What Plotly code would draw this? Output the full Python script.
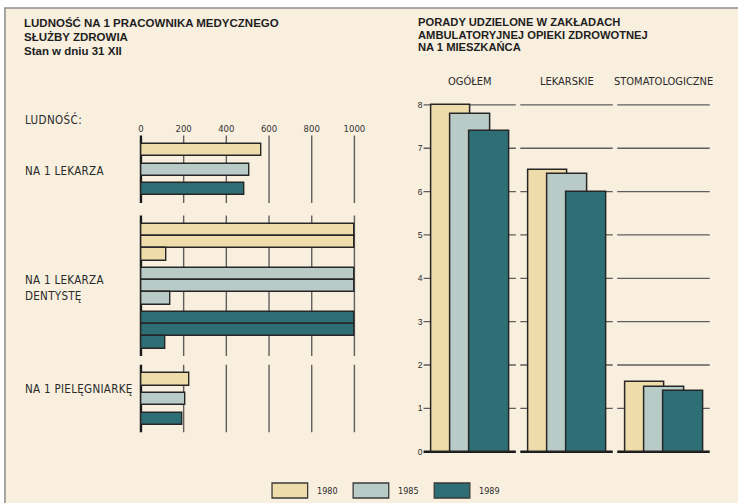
import math
import plotly.graph_objects as go

# ---------------- data ----------------
years = ["1980", "1985", "1989"]

# left chart: population per one medical worker (state on 31 XII)
left_categories = [["NA 1 LEKARZA"], ["NA 1 LEKARZA", "DENTYSTĘ"], ["NA 1 PIELĘGNIARKĘ"]]
pop_per_doctor = [563, 510, 483]
pop_per_dentist = [2120, 2140, 2115]
pop_per_nurse = [225, 208, 192]
left_tickvals = [0, 200, 400, 600, 800, 1000]
left_ticktext = ["0", "200", "400", "600", "800", "1000"]

# right chart: outpatient consultations per inhabitant
right_categories = ["OGÓŁEM", "LEKARSKIE", "STOMATOLOGICZNE"]
visits_1980 = [8.0, 6.5, 1.6]
visits_1985 = [7.8, 6.4, 1.5]
visits_1989 = [7.4, 6.0, 1.4]
right_tickvals = [0, 1, 2, 3, 4, 5, 6, 7, 8]
right_ticktext = ["0", "1", "2", "3", "4", "5", "6", "7", "8"]

# ---------------- style / geometry ----------------
W, H = 738, 503
COLORS = ["#efdcab", "#b9cbc6", "#2e6f75"]
BG = "#f8efde"
EDGE = "#262626"
GRID = "#5e5e5e"
FN = "Liberation Sans Narrow, DejaVu Sans Condensed, Arial Narrow, sans-serif"
FB = "Liberation Sans, Arial, sans-serif"


def px(x):
    return x / W


def py(y):
    return 1 - y / H


def spaced(txt, ls):
    return '<span style="letter-spacing:%.2fpx">%s</span>' % (ls, txt)


# left axis geometry (pixel of 0 and 1000)
L0, L1000 = 142.5, 358.3
lscale = (L1000 - L0) / 1000.0
lpad = 12
# right axis geometry
R_Y0, R_UNIT = 451.7, 43.35
R_TOP, R_BOT = 95, 460
R_XL, R_XR = 428, 725
SEG_START, SEG_STEP, SEG_W = 428, 98, 93.5
BAR_OFF, BAR_STEP, BAR_W = 8, 19.5, 40

fig = go.Figure()
shapes = []
annotations = []

# frame
shapes.append(dict(type="rect", xref="paper", yref="paper", x0=px(5), x1=1.02, y0=-0.02, y1=py(8),
                   fillcolor=BG, line=dict(color="#8c8c8c", width=1.5), layer="below"))

# ---------- left chart ----------
left_values = [pop_per_doctor, pop_per_dentist, pop_per_nurse]
group_tops = [144.0, 224.0, 373.3]
ROW_H, GAP = 12.2, 7.4
label_y = [[171], [280, 296], [389]]

year_rows = {k: ([], []) for k in range(3)}
for g, vals in enumerate(left_values):
    y = group_tops[g]
    for k, v in enumerate(vals):
        n = max(1, math.ceil(v / 1000))
        for r in range(n):
            length = 1000 if r < n - 1 else v - 1000 * (n - 1)
            year_rows[k][0].append(length)
            year_rows[k][1].append(y + ROW_H / 2)
            y += ROW_H
        y += GAP
    bottom = y - GAP
    for t in left_tickvals:
        shapes.append(dict(type="line", xref="x", yref="y", x0=t, x1=t,
                           y0=group_tops[g] - 8.5, y1=bottom + 7.5, layer="below",
                           line=dict(color="#1a1a1a" if t == 0 else GRID, width=2.4 if t == 0 else 1.4)))
    for line_txt, ly in zip(left_categories[g], label_y[g]):
        annotations.append(dict(text=spaced(line_txt, 0.3), x=px(23), y=py(ly), xref="paper", yref="paper",
                                xanchor="left", yanchor="middle", showarrow=False,
                                font=dict(family=FN, size=11.5, color="#2a2a2a")))

for k in range(3):
    fig.add_trace(go.Bar(orientation="h", x=year_rows[k][0], y=year_rows[k][1], base=0,
                         width=ROW_H, name=years[k], showlegend=False,
                         marker=dict(color=COLORS[k], line=dict(color=EDGE, width=1.4)),
                         xaxis="x", yaxis="y", hoverinfo="skip"))

# ---------- right chart ----------
right_values = [visits_1980, visits_1985, visits_1989]
for k in range(3):
    xs = [SEG_START + SEG_STEP * g + BAR_OFF + BAR_STEP * k + BAR_W / 2 for g in range(len(right_categories))]
    fig.add_trace(go.Bar(x=xs, y=right_values[k], width=BAR_W, name=years[k], showlegend=False,
                         marker=dict(color=COLORS[k], line=dict(color=EDGE, width=1.5)),
                         xaxis="x2", yaxis="y2", hoverinfo="skip"))

for g, cat in enumerate(right_categories):
    s = SEG_START + SEG_STEP * g
    for t in right_tickvals:
        shapes.append(dict(type="line", xref="x2", yref="y2", x0=s, x1=s + SEG_W, y0=t, y1=t,
                           layer="below",
                           line=dict(color="#1a1a1a" if t == 0 else GRID, width=2.4 if t == 0 else 1.3)))
    annotations.append(dict(text=cat, x=px(s + SEG_W / 2), y=py(82), xref="paper", yref="paper",
                            xanchor="center", yanchor="middle", showarrow=False,
                            font=dict(family=FN, size=11, color="#2a2a2a")))

# ---------- titles ----------
left_title = ["LUDNOŚĆ NA 1 PRACOWNIKA MEDYCZNEGO", "SŁUŻBY ZDROWIA", "Stan w dniu 31 XII"]
for txt, ly in zip(left_title, [23.3, 37.3, 50.8]):
    annotations.append(dict(text="<b>" + txt + "</b>", x=px(22), y=py(ly), xref="paper", yref="paper",
                            xanchor="left", yanchor="middle", showarrow=False,
                            font=dict(family=FB, size=11.5, color="#1e1e1e")))
right_title = ["PORADY UDZIELONE W ZAKŁADACH", "AMBULATORYJNEJ OPIEKI ZDROWOTNEJ", "NA 1 MIESZKAŃCA"]
for txt, ly in zip(right_title, [22.5, 34.8, 47]):
    annotations.append(dict(text="<b>" + txt + "</b>", x=px(421), y=py(ly), xref="paper", yref="paper",
                            xanchor="left", yanchor="middle", showarrow=False,
                            font=dict(family=FB, size=11.2, color="#1e1e1e")))
annotations.append(dict(text=spaced("LUDNOŚĆ:", 0.4), x=px(23), y=py(119), xref="paper", yref="paper",
                        xanchor="left", yanchor="middle", showarrow=False,
                        font=dict(family=FN, size=11.5, color="#2a2a2a")))

# ---------- legend ----------
for k, yr in enumerate(years):
    x0 = 275 + 82 * k
    shapes.append(dict(type="rect", xref="paper", yref="paper", x0=px(x0), x1=px(x0 + 36),
                       y0=py(498), y1=py(483), fillcolor=COLORS[k],
                       line=dict(color="#3a3a3a", width=1.3)))
    annotations.append(dict(text=yr, x=px(x0 + 43), y=py(491), xref="paper", yref="paper",
                            xanchor="left", yanchor="middle", showarrow=False,
                            font=dict(family=FN, size=9, color="#2a2a2a")))

fig.update_layout(
    width=W, height=H, autosize=False,
    margin=dict(l=0, r=0, t=0, b=0),
    paper_bgcolor="white", plot_bgcolor="rgba(0,0,0,0)",
    barmode="overlay", bargap=0,
    shapes=shapes, annotations=annotations, showlegend=False,
    xaxis=dict(domain=[px(L0 - lpad * lscale), px(L1000 + lpad * lscale)], range=[-lpad, 1000 + lpad],
               anchor="free", position=py(134), side="top",
               tickvals=left_tickvals, ticktext=left_ticktext, ticks="",
               showgrid=False, zeroline=False, showline=False,
               tickfont=dict(family=FN, size=9.5, color="#333333"), fixedrange=True),
    yaxis=dict(domain=[0, 1], range=[H, 0], visible=False, fixedrange=True),
    xaxis2=dict(domain=[px(R_XL), px(R_XR)], range=[R_XL, R_XR], visible=False, anchor="y2", fixedrange=True),
    yaxis2=dict(domain=[py(R_BOT), py(R_TOP)],
                range=[(R_Y0 - R_BOT) / R_UNIT, (R_Y0 - R_TOP) / R_UNIT],
                anchor="x2", tickvals=right_tickvals, ticktext=right_ticktext, ticks="",
                showgrid=False, zeroline=False, showline=False,
                tickfont=dict(family=FB, size=8.5, color="#2a2a2a"), fixedrange=True),
)

fig.write_html("out.html", config={"displayModeBar": False},
               post_script="document.body.style.margin='0';document.body.style.overflow='hidden';")
